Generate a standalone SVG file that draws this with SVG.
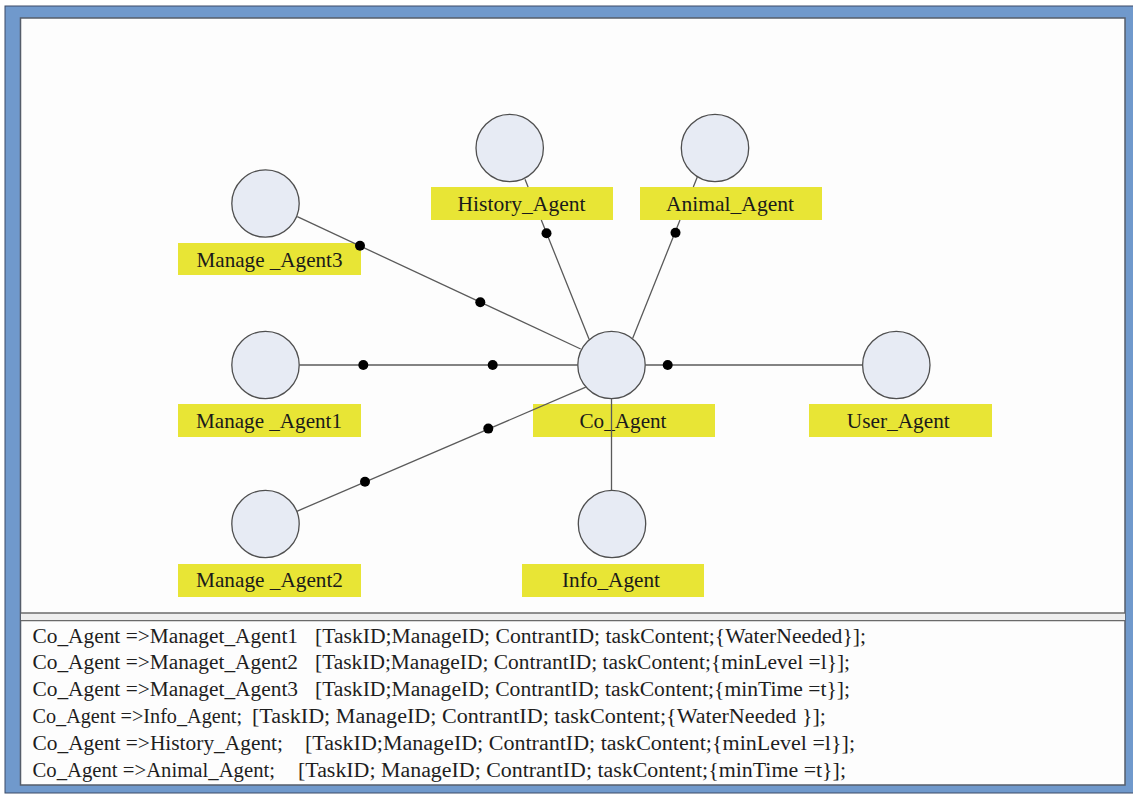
<svg xmlns="http://www.w3.org/2000/svg" width="1133" height="797" viewBox="0 0 1133 797">
<style>
.circ{fill:#e7ebf4;stroke:#4f4f4f;stroke-width:1.3}
.lab{fill:#e8e535}
.lt{font-family:"Liberation Serif","Times New Roman",serif;font-size:22px;fill:#1a1a1a;text-anchor:middle}
.bt{font-family:"Liberation Serif","Times New Roman",serif;font-size:20.5px;fill:#1e1e1e;white-space:pre}
.con{fill:none;stroke:#5a5a5a;stroke-width:1.3}
.dot{fill:#000}
</style>
<rect x="0" y="0" width="1133" height="797" fill="#ffffff"/>
<rect x="5" y="6" width="1130" height="787" fill="#7099cc" stroke="#3d4b66" stroke-width="1"/>
<rect x="20.5" y="18" width="1104.5" height="767" fill="#fdfdfd" stroke="#555d6a" stroke-width="1.5"/>
<rect x="21" y="613" width="1104" height="8" fill="#eeeeee"/>
<line x1="21" y1="613" x2="1125" y2="613" stroke="#6a6a6a" stroke-width="1.3"/>
<line x1="21" y1="620.7" x2="1125" y2="620.7" stroke="#6a6a6a" stroke-width="1.3"/>

<g id="node-manage3">
<circle class="circ" cx="265.5" cy="203.5" r="33.7"/>
<rect class="lab" x="178" y="243" width="183" height="32"/>
<text class="lt" x="269.5" y="266.5" textLength="146" lengthAdjust="spacingAndGlyphs">Manage _Agent3</text>
</g>
<g id="node-history">
<circle class="circ" cx="509.7" cy="148" r="33.7"/>
<rect class="lab" x="431" y="187" width="182" height="33"/>
<text class="lt" x="521.5" y="211" textLength="128" lengthAdjust="spacingAndGlyphs">History_Agent</text>
</g>
<g id="node-animal">
<circle class="circ" cx="715" cy="148" r="33.7"/>
<rect class="lab" x="640" y="187" width="182" height="33"/>
<text class="lt" x="730" y="211" textLength="128" lengthAdjust="spacingAndGlyphs">Animal_Agent</text>
</g>
<g id="node-manage1">
<circle class="circ" cx="265.5" cy="365" r="33.7"/>
<rect class="lab" x="178" y="404" width="183" height="33"/>
<text class="lt" x="269" y="427.7" textLength="146" lengthAdjust="spacingAndGlyphs">Manage _Agent1</text>
</g>
<g id="node-co">
<circle class="circ" cx="611.5" cy="365" r="33.7"/>
<rect class="lab" x="533" y="404" width="182" height="33"/>
<text class="lt" x="623" y="427.7" textLength="87" lengthAdjust="spacingAndGlyphs">Co_Agent</text>
</g>
<g id="node-user">
<circle class="circ" cx="896.3" cy="365" r="33.7"/>
<rect class="lab" x="809" y="404" width="183" height="33"/>
<text class="lt" x="898.3" y="427.7" textLength="103" lengthAdjust="spacingAndGlyphs">User_Agent</text>
</g>
<g id="node-manage2">
<circle class="circ" cx="265.5" cy="524" r="33.7"/>
<rect class="lab" x="178" y="564" width="183" height="33"/>
<text class="lt" x="269.5" y="586.7" textLength="147" lengthAdjust="spacingAndGlyphs">Manage _Agent2</text>
</g>
<g id="node-info">
<circle class="circ" cx="612" cy="524" r="33.7"/>
<rect class="lab" x="522" y="564" width="182" height="33"/>
<text class="lt" x="611" y="586.7" textLength="98" lengthAdjust="spacingAndGlyphs">Info_Agent</text>
</g>

<g id="connectors">
<path class="con" d="M297.3,216.7 L580.7,349"/>
<path class="con" d="M299.2,365 L577.8,365"/>
<path class="con" d="M296.8,511.3 L585.8,387.2"/>
<path class="con" d="M525,179.3 L528.1,187 M541.3,220 L589.2,339.5"/>
<path class="con" d="M697.3,176.9 L693.3,187 M680,220 L632.6,338.5"/>
<path class="con" d="M645.2,365 L862.6,365"/>
<path class="con" d="M611.5,398.7 L611.5,490.3"/>
<circle class="dot" cx="360" cy="245.8" r="5"/>
<circle class="dot" cx="480.3" cy="302.2" r="5"/>
<circle class="dot" cx="363.3" cy="365" r="5"/>
<circle class="dot" cx="492.7" cy="365" r="5"/>
<circle class="dot" cx="488.3" cy="428.6" r="5"/>
<circle class="dot" cx="365" cy="481.8" r="5"/>
<circle class="dot" cx="546.5" cy="233.3" r="5"/>
<circle class="dot" cx="675.5" cy="232.8" r="5"/>
<circle class="dot" cx="667.7" cy="365" r="5"/>
</g>

<g id="message-list">
<text class="bt" y="642.5"><tspan x="32.5" textLength="265.5" lengthAdjust="spacingAndGlyphs">Co_Agent =&gt;Managet_Agent1</tspan><tspan x="315" textLength="551" lengthAdjust="spacingAndGlyphs">[TaskID;ManageID; ContrantID; taskContent;{WaterNeeded}];</tspan></text>
<text class="bt" y="669.3"><tspan x="32.5" textLength="265.5" lengthAdjust="spacingAndGlyphs">Co_Agent =&gt;Managet_Agent2</tspan><tspan x="315" textLength="535" lengthAdjust="spacingAndGlyphs">[TaskID;ManageID; ContrantID; taskContent;{minLevel =l}];</tspan></text>
<text class="bt" y="696.1"><tspan x="32.5" textLength="265.5" lengthAdjust="spacingAndGlyphs">Co_Agent =&gt;Managet_Agent3</tspan><tspan x="315" textLength="535" lengthAdjust="spacingAndGlyphs">[TaskID;ManageID; ContrantID; taskContent;{minTime =t}];</tspan></text>
<text class="bt" y="722.9"><tspan x="32.5" textLength="209.5" lengthAdjust="spacingAndGlyphs">Co_Agent =&gt;Info_Agent;</tspan><tspan x="252" textLength="574" lengthAdjust="spacingAndGlyphs">[TaskID; ManageID; ContrantID; taskContent;{WaterNeeded }];</tspan></text>
<text class="bt" y="749.7"><tspan x="32.5" textLength="250.5" lengthAdjust="spacingAndGlyphs">Co_Agent =&gt;History_Agent;</tspan><tspan x="305" textLength="550" lengthAdjust="spacingAndGlyphs">[TaskID;ManageID; ContrantID; taskContent;{minLevel =l}];</tspan></text>
<text class="bt" y="776.5"><tspan x="32.5" textLength="242.5" lengthAdjust="spacingAndGlyphs">Co_Agent =&gt;Animal_Agent;</tspan><tspan x="298" textLength="548" lengthAdjust="spacingAndGlyphs">[TaskID; ManageID; ContrantID; taskContent;{minTime =t}];</tspan></text>
</g>
</svg>
